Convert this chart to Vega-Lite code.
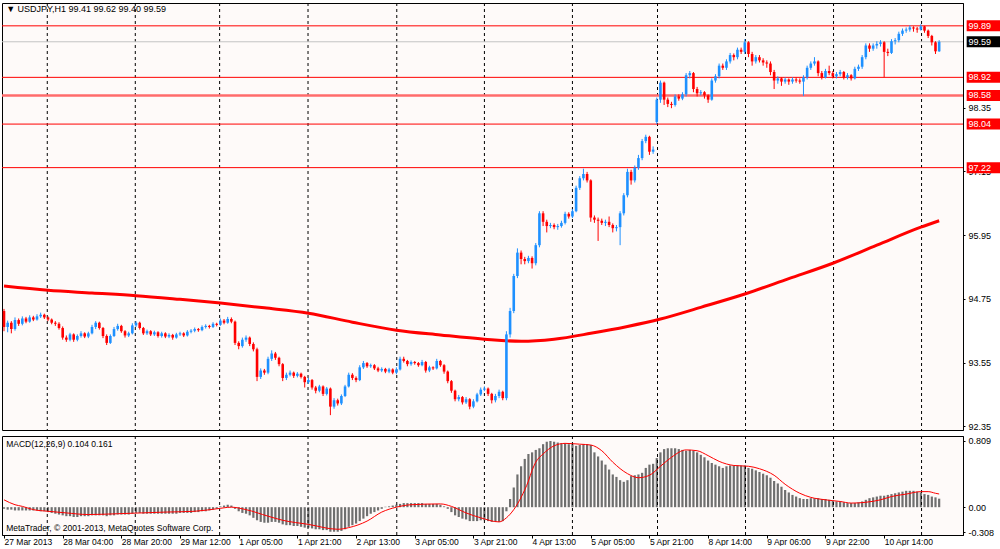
{
  "$schema": "https://vega.github.io/schema/vega-lite/v6.json",
  "background": "white",
  "padding": {"left": -3, "top": 2, "right": 0, "bottom": 0},
  "spacing": 3,
  "config": {
    "font": "Liberation Sans",
    "view": {"stroke": "black", "strokeWidth": 1, "fill": "#FEFAF9"},
    "scale": {"continuousPadding": 0},
    "axis": {"labelFont": "Liberation Sans", "labelFontSize": 9, "labelColor": "black", "domainColor": "black", "tickColor": "black", "grid": false, "labelFlush": false, "labelOverlap": false}
  },
  "datasets": {
    "sep": [{"i":11.8},{"i":35.8},{"i":58.8},{"i":82.9},{"i":107.1},{"i":131},{"i":155},{"i":178.2},{"i":202.2},{"i":226.2},{"i":250.2}],
    "ma": [
      {"i":0,"v":94.99},{"i":12,"v":94.91},{"i":24,"v":94.86},{"i":36,"v":94.81},{"i":48,"v":94.74},{"i":59,"v":94.67},
      {"i":71,"v":94.58},{"i":83,"v":94.48},{"i":95,"v":94.31},{"i":107,"v":94.16},{"i":119,"v":94.07},{"i":131,"v":93.99},
      {"i":141,"v":93.95},{"i":150,"v":93.99},{"i":160,"v":94.10},{"i":170,"v":94.23},{"i":179,"v":94.37},{"i":190,"v":94.59},
      {"i":202,"v":94.84},{"i":214,"v":95.13},{"i":226,"v":95.42},{"i":238,"v":95.76},{"i":250,"v":96.10},{"i":255,"v":96.22}
    ],
    "sig": [
      {"i":0,"s":0.09},{"i":3,"s":0.03},{"i":5,"s":0.01},{"i":8,"s":-0.03},{"i":12,"s":-0.05},{"i":17,"s":-0.07},{"i":23,"s":-0.09},
      {"i":31,"s":-0.08},{"i":44,"s":-0.06},{"i":52,"s":-0.05},{"i":58,"s":-0.02},{"i":62,"s":0.0},{"i":66,"s":-0.03},{"i":72,"s":-0.11},
      {"i":76,"s":-0.16},{"i":83,"s":-0.21},{"i":91,"s":-0.27},{"i":94,"s":-0.25},{"i":99,"s":-0.17},{"i":103,"s":-0.06},{"i":107,"s":0.0},
      {"i":111,"s":0.03},{"i":119,"s":0.04},{"i":122,"s":0.01},{"i":126,"s":-0.07},{"i":130,"s":-0.13},{"i":135,"s":-0.18},{"i":137,"s":-0.13},
      {"i":139,"s":-0.03},{"i":141,"s":0.12},{"i":143,"s":0.32},{"i":144,"s":0.45},{"i":145,"s":0.55},{"i":147,"s":0.65},{"i":150,"s":0.75},
      {"i":153,"s":0.78},{"i":157,"s":0.77},{"i":160,"s":0.76},{"i":163,"s":0.69},{"i":166,"s":0.55},{"i":170,"s":0.41},{"i":173,"s":0.36},
      {"i":176,"s":0.39},{"i":179,"s":0.50},{"i":182,"s":0.61},{"i":186,"s":0.70},{"i":189,"s":0.69},{"i":192,"s":0.63},{"i":195,"s":0.56},
      {"i":199,"s":0.51},{"i":203,"s":0.50},{"i":206,"s":0.47},{"i":210,"s":0.39},{"i":213,"s":0.28},{"i":217,"s":0.17},{"i":220,"s":0.12},
      {"i":224,"s":0.09},{"i":228,"s":0.07},{"i":231,"s":0.05},{"i":235,"s":0.06},{"i":239,"s":0.09},{"i":242,"s":0.13},{"i":246,"s":0.16},
      {"i":250,"s":0.19},{"i":252,"s":0.19},{"i":254,"s":0.17},{"i":255,"s":0.161}
    ],
    "bars": [
      {"i":0,"o":94.52,"h":94.56,"l":94.14,"c":94.22,"m":-0.02},
      {"i":1,"o":94.22,"h":94.34,"l":94.12,"c":94.30,"m":-0.03},
      {"i":2,"o":94.30,"h":94.33,"l":94.10,"c":94.18,"m":-0.03},
      {"i":3,"o":94.18,"h":94.40,"l":94.15,"c":94.35,"m":-0.04},
      {"i":4,"o":94.35,"h":94.38,"l":94.24,"c":94.28,"m":-0.04},
      {"i":5,"o":94.28,"h":94.42,"l":94.25,"c":94.38,"m":-0.04},
      {"i":6,"o":94.38,"h":94.41,"l":94.29,"c":94.32,"m":-0.04},
      {"i":7,"o":94.32,"h":94.44,"l":94.30,"c":94.40,"m":-0.04},
      {"i":8,"o":94.40,"h":94.43,"l":94.33,"c":94.36,"m":-0.04},
      {"i":9,"o":94.36,"h":94.46,"l":94.34,"c":94.42,"m":-0.04},
      {"i":10,"o":94.42,"h":94.49,"l":94.39,"c":94.45,"m":-0.05},
      {"i":11,"o":94.45,"h":94.47,"l":94.37,"c":94.40,"m":-0.05},
      {"i":12,"o":94.40,"h":94.42,"l":94.33,"c":94.36,"m":-0.06},
      {"i":13,"o":94.36,"h":94.38,"l":94.27,"c":94.30,"m":-0.07},
      {"i":14,"o":94.30,"h":94.33,"l":94.24,"c":94.28,"m":-0.08},
      {"i":15,"o":94.28,"h":94.31,"l":94.17,"c":94.20,"m":-0.09},
      {"i":16,"o":94.20,"h":94.23,"l":93.98,"c":94.02,"m":-0.10},
      {"i":17,"o":94.02,"h":94.06,"l":93.94,"c":93.98,"m":-0.11},
      {"i":18,"o":93.98,"h":94.11,"l":93.95,"c":94.08,"m":-0.11},
      {"i":19,"o":94.08,"h":94.10,"l":93.94,"c":93.98,"m":-0.12},
      {"i":20,"o":93.98,"h":94.08,"l":93.95,"c":94.05,"m":-0.12},
      {"i":21,"o":94.05,"h":94.14,"l":94.02,"c":94.10,"m":-0.11},
      {"i":22,"o":94.10,"h":94.12,"l":94.01,"c":94.04,"m":-0.11},
      {"i":23,"o":94.04,"h":94.13,"l":94.01,"c":94.10,"m":-0.11},
      {"i":24,"o":94.10,"h":94.26,"l":94.08,"c":94.22,"m":-0.10},
      {"i":25,"o":94.22,"h":94.33,"l":94.18,"c":94.30,"m":-0.10},
      {"i":26,"o":94.30,"h":94.32,"l":94.17,"c":94.20,"m":-0.10},
      {"i":27,"o":94.20,"h":94.22,"l":94.01,"c":94.05,"m":-0.10},
      {"i":28,"o":94.05,"h":94.08,"l":93.88,"c":93.92,"m":-0.11},
      {"i":29,"o":93.92,"h":94.08,"l":93.90,"c":94.05,"m":-0.10},
      {"i":30,"o":94.05,"h":94.22,"l":94.03,"c":94.18,"m":-0.10},
      {"i":31,"o":94.18,"h":94.28,"l":94.15,"c":94.24,"m":-0.09},
      {"i":32,"o":94.24,"h":94.26,"l":94.11,"c":94.14,"m":-0.09},
      {"i":33,"o":94.14,"h":94.16,"l":94.02,"c":94.06,"m":-0.09},
      {"i":34,"o":94.06,"h":94.13,"l":94.03,"c":94.10,"m":-0.09},
      {"i":35,"o":94.10,"h":94.29,"l":94.08,"c":94.25,"m":-0.08},
      {"i":36,"o":94.25,"h":94.33,"l":94.22,"c":94.30,"m":-0.07},
      {"i":37,"o":94.30,"h":94.32,"l":94.17,"c":94.20,"m":-0.07},
      {"i":38,"o":94.20,"h":94.22,"l":94.07,"c":94.10,"m":-0.08},
      {"i":39,"o":94.10,"h":94.17,"l":94.07,"c":94.14,"m":-0.08},
      {"i":40,"o":94.14,"h":94.16,"l":94.05,"c":94.08,"m":-0.08},
      {"i":41,"o":94.08,"h":94.15,"l":94.05,"c":94.12,"m":-0.08},
      {"i":42,"o":94.12,"h":94.14,"l":94.02,"c":94.05,"m":-0.08},
      {"i":43,"o":94.05,"h":94.13,"l":94.02,"c":94.10,"m":-0.08},
      {"i":44,"o":94.10,"h":94.12,"l":94.01,"c":94.04,"m":-0.08},
      {"i":45,"o":94.04,"h":94.10,"l":94.01,"c":94.07,"m":-0.08},
      {"i":46,"o":94.07,"h":94.09,"l":93.98,"c":94.02,"m":-0.08},
      {"i":47,"o":94.02,"h":94.11,"l":94.00,"c":94.08,"m":-0.08},
      {"i":48,"o":94.08,"h":94.13,"l":94.05,"c":94.10,"m":-0.07},
      {"i":49,"o":94.10,"h":94.12,"l":94.03,"c":94.06,"m":-0.07},
      {"i":50,"o":94.06,"h":94.16,"l":94.04,"c":94.13,"m":-0.07},
      {"i":51,"o":94.13,"h":94.18,"l":94.10,"c":94.15,"m":-0.07},
      {"i":52,"o":94.15,"h":94.21,"l":94.12,"c":94.18,"m":-0.06},
      {"i":53,"o":94.18,"h":94.20,"l":94.13,"c":94.16,"m":-0.06},
      {"i":54,"o":94.16,"h":94.25,"l":94.14,"c":94.22,"m":-0.05},
      {"i":55,"o":94.22,"h":94.27,"l":94.19,"c":94.24,"m":-0.05},
      {"i":56,"o":94.24,"h":94.26,"l":94.19,"c":94.22,"m":-0.04},
      {"i":57,"o":94.22,"h":94.31,"l":94.20,"c":94.28,"m":-0.03},
      {"i":58,"o":94.28,"h":94.30,"l":94.23,"c":94.26,"m":-0.02},
      {"i":59,"o":94.26,"h":94.38,"l":94.24,"c":94.34,"m":0.01},
      {"i":60,"o":94.34,"h":94.37,"l":94.27,"c":94.30,"m":0.02},
      {"i":61,"o":94.30,"h":94.41,"l":94.28,"c":94.37,"m":0.03},
      {"i":62,"o":94.37,"h":94.40,"l":94.29,"c":94.32,"m":0.02},
      {"i":63,"o":94.32,"h":94.34,"l":93.88,"c":93.92,"m":-0.02},
      {"i":64,"o":93.92,"h":93.95,"l":93.80,"c":93.86,"m":-0.05},
      {"i":65,"o":93.86,"h":94.02,"l":93.83,"c":93.98,"m":-0.07},
      {"i":66,"o":93.98,"h":94.06,"l":93.94,"c":94.02,"m":-0.08},
      {"i":67,"o":94.02,"h":94.04,"l":93.86,"c":93.90,"m":-0.10},
      {"i":68,"o":93.90,"h":93.93,"l":93.76,"c":93.80,"m":-0.13},
      {"i":69,"o":93.80,"h":93.83,"l":93.20,"c":93.28,"m":-0.16},
      {"i":70,"o":93.28,"h":93.44,"l":93.24,"c":93.40,"m":-0.18},
      {"i":71,"o":93.40,"h":93.43,"l":93.32,"c":93.36,"m":-0.19},
      {"i":72,"o":93.36,"h":93.66,"l":93.33,"c":93.62,"m":-0.19},
      {"i":73,"o":93.62,"h":93.78,"l":93.58,"c":93.72,"m":-0.18},
      {"i":74,"o":93.72,"h":93.75,"l":93.60,"c":93.64,"m":-0.18},
      {"i":75,"o":93.64,"h":93.66,"l":93.48,"c":93.52,"m":-0.19},
      {"i":76,"o":93.52,"h":93.54,"l":93.20,"c":93.26,"m":-0.21},
      {"i":77,"o":93.26,"h":93.36,"l":93.22,"c":93.32,"m":-0.22},
      {"i":78,"o":93.32,"h":93.40,"l":93.29,"c":93.36,"m":-0.22},
      {"i":79,"o":93.36,"h":93.38,"l":93.26,"c":93.30,"m":-0.23},
      {"i":80,"o":93.30,"h":93.37,"l":93.27,"c":93.34,"m":-0.23},
      {"i":81,"o":93.34,"h":93.36,"l":93.25,"c":93.28,"m":-0.24},
      {"i":82,"o":93.28,"h":93.30,"l":93.08,"c":93.18,"m":-0.25},
      {"i":83,"o":93.18,"h":93.26,"l":93.15,"c":93.22,"m":-0.25},
      {"i":84,"o":93.22,"h":93.24,"l":93.04,"c":93.08,"m":-0.26},
      {"i":85,"o":93.08,"h":93.11,"l":92.97,"c":93.02,"m":-0.27},
      {"i":86,"o":93.02,"h":93.13,"l":92.99,"c":93.10,"m":-0.27},
      {"i":87,"o":93.10,"h":93.12,"l":92.92,"c":92.96,"m":-0.28},
      {"i":88,"o":92.96,"h":93.09,"l":92.93,"c":93.06,"m":-0.28},
      {"i":89,"o":93.06,"h":93.08,"l":92.56,"c":92.72,"m":-0.30},
      {"i":90,"o":92.72,"h":92.88,"l":92.68,"c":92.84,"m":-0.30},
      {"i":91,"o":92.84,"h":92.87,"l":92.74,"c":92.78,"m":-0.30},
      {"i":92,"o":92.78,"h":92.95,"l":92.75,"c":92.92,"m":-0.29},
      {"i":93,"o":92.92,"h":93.13,"l":92.90,"c":93.10,"m":-0.27},
      {"i":94,"o":93.10,"h":93.36,"l":93.08,"c":93.32,"m":-0.24},
      {"i":95,"o":93.32,"h":93.35,"l":93.22,"c":93.26,"m":-0.22},
      {"i":96,"o":93.26,"h":93.29,"l":93.18,"c":93.22,"m":-0.20},
      {"i":97,"o":93.22,"h":93.50,"l":93.20,"c":93.46,"m":-0.17},
      {"i":98,"o":93.46,"h":93.58,"l":93.43,"c":93.54,"m":-0.14},
      {"i":99,"o":93.54,"h":93.56,"l":93.45,"c":93.48,"m":-0.11},
      {"i":100,"o":93.48,"h":93.53,"l":93.45,"c":93.50,"m":-0.08},
      {"i":101,"o":93.50,"h":93.52,"l":93.41,"c":93.44,"m":-0.06},
      {"i":102,"o":93.44,"h":93.47,"l":93.37,"c":93.40,"m":-0.04},
      {"i":103,"o":93.40,"h":93.46,"l":93.37,"c":93.43,"m":-0.02},
      {"i":104,"o":93.43,"h":93.45,"l":93.35,"c":93.38,"m":0.005},
      {"i":105,"o":93.38,"h":93.45,"l":93.35,"c":93.42,"m":0.01},
      {"i":106,"o":93.42,"h":93.44,"l":93.33,"c":93.36,"m":0.02},
      {"i":107,"o":93.36,"h":93.46,"l":93.33,"c":93.42,"m":0.03},
      {"i":108,"o":93.42,"h":93.66,"l":93.40,"c":93.62,"m":0.04},
      {"i":109,"o":93.62,"h":93.66,"l":93.55,"c":93.58,"m":0.05},
      {"i":110,"o":93.58,"h":93.60,"l":93.48,"c":93.52,"m":0.05},
      {"i":111,"o":93.52,"h":93.59,"l":93.49,"c":93.56,"m":0.05},
      {"i":112,"o":93.56,"h":93.58,"l":93.51,"c":93.54,"m":0.05},
      {"i":113,"o":93.54,"h":93.56,"l":93.47,"c":93.50,"m":0.05},
      {"i":114,"o":93.50,"h":93.60,"l":93.48,"c":93.56,"m":0.05},
      {"i":115,"o":93.56,"h":93.58,"l":93.36,"c":93.40,"m":0.04},
      {"i":116,"o":93.40,"h":93.49,"l":93.37,"c":93.46,"m":0.04},
      {"i":117,"o":93.46,"h":93.48,"l":93.41,"c":93.44,"m":0.04},
      {"i":118,"o":93.44,"h":93.62,"l":93.42,"c":93.58,"m":0.04},
      {"i":119,"o":93.58,"h":93.60,"l":93.47,"c":93.50,"m":0.03},
      {"i":120,"o":93.50,"h":93.52,"l":93.34,"c":93.38,"m":0.01},
      {"i":121,"o":93.38,"h":93.40,"l":93.16,"c":93.20,"m":-0.02},
      {"i":122,"o":93.20,"h":93.22,"l":92.98,"c":93.02,"m":-0.06},
      {"i":123,"o":93.02,"h":93.04,"l":92.82,"c":92.86,"m":-0.10},
      {"i":124,"o":92.86,"h":92.94,"l":92.82,"c":92.90,"m":-0.12},
      {"i":125,"o":92.90,"h":92.92,"l":92.76,"c":92.80,"m":-0.14},
      {"i":126,"o":92.80,"h":92.90,"l":92.77,"c":92.86,"m":-0.15},
      {"i":127,"o":92.86,"h":92.88,"l":92.67,"c":92.72,"m":-0.17},
      {"i":128,"o":92.72,"h":92.86,"l":92.69,"c":92.82,"m":-0.17},
      {"i":129,"o":92.82,"h":92.98,"l":92.80,"c":92.95,"m":-0.17},
      {"i":130,"o":92.95,"h":93.08,"l":92.92,"c":93.04,"m":-0.16},
      {"i":131,"o":93.04,"h":93.10,"l":93.01,"c":93.06,"m":-0.16},
      {"i":132,"o":93.06,"h":93.08,"l":92.92,"c":92.96,"m":-0.17},
      {"i":133,"o":92.96,"h":92.98,"l":92.78,"c":92.84,"m":-0.18},
      {"i":134,"o":92.84,"h":92.96,"l":92.80,"c":92.92,"m":-0.18},
      {"i":135,"o":92.92,"h":93.04,"l":92.88,"c":93.00,"m":-0.18},
      {"i":136,"o":93.00,"h":93.02,"l":92.84,"c":92.88,"m":-0.17},
      {"i":137,"o":92.88,"h":94.14,"l":92.84,"c":94.08,"m":-0.05},
      {"i":138,"o":94.08,"h":94.58,"l":94.02,"c":94.52,"m":0.10},
      {"i":139,"o":94.52,"h":95.22,"l":94.48,"c":95.18,"m":0.24},
      {"i":140,"o":95.18,"h":95.70,"l":95.14,"c":95.62,"m":0.40},
      {"i":141,"o":95.62,"h":95.66,"l":95.40,"c":95.50,"m":0.50},
      {"i":142,"o":95.50,"h":95.54,"l":95.40,"c":95.46,"m":0.59},
      {"i":143,"o":95.46,"h":95.56,"l":95.42,"c":95.52,"m":0.65},
      {"i":144,"o":95.52,"h":95.55,"l":95.32,"c":95.42,"m":0.67},
      {"i":145,"o":95.42,"h":95.80,"l":95.38,"c":95.76,"m":0.70},
      {"i":146,"o":95.76,"h":96.40,"l":95.72,"c":96.36,"m":0.72},
      {"i":147,"o":96.36,"h":96.40,"l":96.12,"c":96.20,"m":0.77},
      {"i":148,"o":96.20,"h":96.24,"l":96.00,"c":96.12,"m":0.80},
      {"i":149,"o":96.12,"h":96.18,"l":96.08,"c":96.14,"m":0.809},
      {"i":150,"o":96.14,"h":96.17,"l":96.06,"c":96.10,"m":0.80},
      {"i":151,"o":96.10,"h":96.16,"l":96.05,"c":96.12,"m":0.79},
      {"i":152,"o":96.12,"h":96.22,"l":96.09,"c":96.18,"m":0.78},
      {"i":153,"o":96.18,"h":96.39,"l":96.15,"c":96.35,"m":0.78},
      {"i":154,"o":96.35,"h":96.38,"l":96.26,"c":96.30,"m":0.77},
      {"i":155,"o":96.30,"h":96.44,"l":96.27,"c":96.40,"m":0.77},
      {"i":156,"o":96.40,"h":96.88,"l":96.38,"c":96.84,"m":0.75},
      {"i":157,"o":96.84,"h":97.06,"l":96.80,"c":97.02,"m":0.76},
      {"i":158,"o":97.02,"h":97.20,"l":96.98,"c":97.10,"m":0.77},
      {"i":159,"o":97.10,"h":97.14,"l":96.94,"c":96.98,"m":0.77},
      {"i":160,"o":96.98,"h":97.00,"l":96.20,"c":96.28,"m":0.76},
      {"i":161,"o":96.28,"h":96.32,"l":96.18,"c":96.24,"m":0.67},
      {"i":162,"o":96.24,"h":96.28,"l":95.84,"c":96.22,"m":0.62},
      {"i":163,"o":96.22,"h":96.26,"l":96.14,"c":96.18,"m":0.57},
      {"i":164,"o":96.18,"h":96.24,"l":96.12,"c":96.20,"m":0.52},
      {"i":165,"o":96.20,"h":96.30,"l":96.10,"c":96.14,"m":0.46},
      {"i":166,"o":96.14,"h":96.17,"l":96.00,"c":96.08,"m":0.40},
      {"i":167,"o":96.08,"h":96.14,"l":96.02,"c":96.10,"m":0.37},
      {"i":168,"o":96.10,"h":96.40,"l":95.76,"c":96.36,"m":0.33},
      {"i":169,"o":96.36,"h":96.74,"l":96.32,"c":96.70,"m":0.31},
      {"i":170,"o":96.70,"h":97.20,"l":96.66,"c":97.14,"m":0.33},
      {"i":171,"o":97.14,"h":97.18,"l":96.90,"c":96.98,"m":0.38},
      {"i":172,"o":96.98,"h":97.26,"l":96.94,"c":97.22,"m":0.39},
      {"i":173,"o":97.22,"h":97.46,"l":97.18,"c":97.40,"m":0.40},
      {"i":174,"o":97.40,"h":97.76,"l":97.36,"c":97.72,"m":0.42},
      {"i":175,"o":97.72,"h":97.84,"l":97.68,"c":97.80,"m":0.48},
      {"i":176,"o":97.80,"h":97.82,"l":97.46,"c":97.52,"m":0.52},
      {"i":177,"o":97.52,"h":97.62,"l":97.48,"c":97.56,"m":0.53},
      {"i":178,"o":98.08,"h":98.54,"l":98.04,"c":98.50,"m":0.60},
      {"i":179,"o":98.50,"h":98.86,"l":98.44,"c":98.82,"m":0.67},
      {"i":180,"o":98.82,"h":98.84,"l":98.40,"c":98.50,"m":0.71},
      {"i":181,"o":98.50,"h":98.54,"l":98.36,"c":98.42,"m":0.72},
      {"i":182,"o":98.42,"h":98.46,"l":98.34,"c":98.40,"m":0.72},
      {"i":183,"o":98.40,"h":98.60,"l":98.37,"c":98.56,"m":0.72},
      {"i":184,"o":98.56,"h":98.60,"l":98.48,"c":98.52,"m":0.71},
      {"i":185,"o":98.52,"h":98.64,"l":98.49,"c":98.60,"m":0.70},
      {"i":186,"o":98.60,"h":99.00,"l":98.56,"c":98.96,"m":0.69},
      {"i":187,"o":98.96,"h":99.04,"l":98.90,"c":99.00,"m":0.70},
      {"i":188,"o":99.00,"h":99.02,"l":98.64,"c":98.70,"m":0.69},
      {"i":189,"o":98.70,"h":98.74,"l":98.56,"c":98.62,"m":0.67},
      {"i":190,"o":98.62,"h":98.68,"l":98.58,"c":98.64,"m":0.64},
      {"i":191,"o":98.64,"h":98.66,"l":98.52,"c":98.58,"m":0.61},
      {"i":192,"o":98.58,"h":98.60,"l":98.44,"c":98.50,"m":0.57},
      {"i":193,"o":98.50,"h":98.90,"l":98.48,"c":98.86,"m":0.54},
      {"i":194,"o":98.86,"h":98.98,"l":98.82,"c":98.94,"m":0.52},
      {"i":195,"o":98.94,"h":99.18,"l":98.90,"c":99.14,"m":0.50},
      {"i":196,"o":99.14,"h":99.18,"l":99.06,"c":99.10,"m":0.48},
      {"i":197,"o":99.10,"h":99.26,"l":99.06,"c":99.22,"m":0.50},
      {"i":198,"o":99.22,"h":99.38,"l":99.18,"c":99.34,"m":0.51},
      {"i":199,"o":99.34,"h":99.37,"l":99.24,"c":99.30,"m":0.51},
      {"i":200,"o":99.30,"h":99.48,"l":99.26,"c":99.44,"m":0.51},
      {"i":201,"o":99.44,"h":99.48,"l":99.36,"c":99.40,"m":0.51},
      {"i":202,"o":99.40,"h":99.64,"l":99.36,"c":99.58,"m":0.51},
      {"i":203,"o":99.58,"h":99.60,"l":99.30,"c":99.36,"m":0.48},
      {"i":204,"o":99.36,"h":99.40,"l":99.14,"c":99.22,"m":0.47},
      {"i":205,"o":99.22,"h":99.34,"l":99.18,"c":99.30,"m":0.45},
      {"i":206,"o":99.30,"h":99.34,"l":99.20,"c":99.24,"m":0.43},
      {"i":207,"o":99.24,"h":99.28,"l":99.14,"c":99.20,"m":0.41},
      {"i":208,"o":99.20,"h":99.24,"l":99.10,"c":99.18,"m":0.39},
      {"i":209,"o":99.18,"h":99.22,"l":98.96,"c":99.02,"m":0.36},
      {"i":210,"o":99.02,"h":99.06,"l":98.70,"c":98.86,"m":0.32},
      {"i":211,"o":98.86,"h":98.94,"l":98.80,"c":98.90,"m":0.29},
      {"i":212,"o":98.90,"h":98.92,"l":98.76,"c":98.84,"m":0.25},
      {"i":213,"o":98.84,"h":98.92,"l":98.80,"c":98.88,"m":0.21},
      {"i":214,"o":98.88,"h":98.90,"l":98.78,"c":98.84,"m":0.18},
      {"i":215,"o":98.84,"h":98.92,"l":98.80,"c":98.88,"m":0.15},
      {"i":216,"o":98.88,"h":98.92,"l":98.82,"c":98.86,"m":0.13},
      {"i":217,"o":98.86,"h":98.90,"l":98.80,"c":98.84,"m":0.11},
      {"i":218,"o":98.84,"h":98.96,"l":98.57,"c":98.92,"m":0.10},
      {"i":219,"o":98.92,"h":99.14,"l":98.88,"c":99.10,"m":0.10},
      {"i":220,"o":99.10,"h":99.22,"l":99.06,"c":99.18,"m":0.11},
      {"i":221,"o":99.18,"h":99.30,"l":99.14,"c":99.22,"m":0.11},
      {"i":222,"o":99.22,"h":99.24,"l":98.94,"c":99.00,"m":0.11},
      {"i":223,"o":99.00,"h":99.04,"l":98.88,"c":98.92,"m":0.10},
      {"i":224,"o":98.92,"h":99.08,"l":98.90,"c":99.04,"m":0.10},
      {"i":225,"o":99.04,"h":99.14,"l":98.96,"c":99.00,"m":0.09},
      {"i":226,"o":99.00,"h":99.04,"l":98.90,"c":98.94,"m":0.08},
      {"i":227,"o":98.94,"h":99.02,"l":98.90,"c":98.98,"m":0.07},
      {"i":228,"o":98.98,"h":99.06,"l":98.94,"c":99.02,"m":0.07},
      {"i":229,"o":99.02,"h":99.04,"l":98.88,"c":98.92,"m":0.06},
      {"i":230,"o":98.92,"h":99.00,"l":98.88,"c":98.96,"m":0.05},
      {"i":231,"o":98.96,"h":98.98,"l":98.86,"c":98.90,"m":0.05},
      {"i":232,"o":98.90,"h":99.12,"l":98.88,"c":99.08,"m":0.05},
      {"i":233,"o":99.08,"h":99.16,"l":99.04,"c":99.12,"m":0.06},
      {"i":234,"o":99.12,"h":99.34,"l":99.08,"c":99.30,"m":0.07},
      {"i":235,"o":99.30,"h":99.56,"l":99.26,"c":99.52,"m":0.09},
      {"i":236,"o":99.52,"h":99.56,"l":99.40,"c":99.46,"m":0.11},
      {"i":237,"o":99.46,"h":99.56,"l":99.42,"c":99.52,"m":0.12},
      {"i":238,"o":99.52,"h":99.60,"l":99.46,"c":99.55,"m":0.13},
      {"i":239,"o":99.55,"h":99.62,"l":99.50,"c":99.58,"m":0.14},
      {"i":240,"o":99.58,"h":99.60,"l":98.92,"c":99.40,"m":0.14},
      {"i":241,"o":99.40,"h":99.46,"l":99.32,"c":99.38,"m":0.15},
      {"i":242,"o":99.38,"h":99.64,"l":99.36,"c":99.60,"m":0.16},
      {"i":243,"o":99.60,"h":99.66,"l":99.54,"c":99.62,"m":0.17},
      {"i":244,"o":99.62,"h":99.78,"l":99.58,"c":99.74,"m":0.18},
      {"i":245,"o":99.74,"h":99.84,"l":99.70,"c":99.80,"m":0.19},
      {"i":246,"o":99.80,"h":99.86,"l":99.76,"c":99.82,"m":0.20},
      {"i":247,"o":99.82,"h":99.90,"l":99.78,"c":99.86,"m":0.20},
      {"i":248,"o":99.86,"h":99.88,"l":99.78,"c":99.84,"m":0.20},
      {"i":249,"o":99.84,"h":99.87,"l":99.76,"c":99.82,"m":0.19},
      {"i":250,"o":99.82,"h":99.92,"l":99.80,"c":99.88,"m":0.18},
      {"i":251,"o":99.88,"h":99.89,"l":99.76,"c":99.80,"m":0.16},
      {"i":252,"o":99.80,"h":99.82,"l":99.66,"c":99.70,"m":0.15},
      {"i":253,"o":99.70,"h":99.72,"l":99.52,"c":99.58,"m":0.13},
      {"i":254,"o":99.58,"h":99.60,"l":99.36,"c":99.41,"m":0.12},
      {"i":255,"o":99.41,"h":99.62,"l":99.40,"c":99.59,"m":0.104}
    ]
  },
  "vconcat": [
    {
      "width": 961,
      "height": 427,
      "layer": [
        {
          "data": {"name": "sep"},
          "mark": {"type": "rule", "color": "black", "strokeWidth": 1, "strokeDash": [3, 3]},
          "encoding": {
            "x": {"field": "i", "type": "quantitative", "scale": {"domain": [-0.545, 261.5], "nice": false, "zero": false, "padding": 0}, "axis": null, "title": null}
          }
        },
        {
          "data": {"values": [{"p": 99.89}, {"p": 98.92}, {"p": 98.04}, {"p": 97.22}]},
          "mark": {"type": "rule", "color": "#FF0000", "strokeWidth": 1},
          "encoding": {
            "y": {
              "field": "p", "type": "quantitative", "title": null,
              "scale": {"domain": [92.28, 100.32], "nice": false, "zero": false, "padding": 0},
              "axis": {"orient": "right", "values": [92.35, 92.95, 93.55, 94.15, 94.75, 95.35, 95.95, 96.55, 97.15, 97.75, 98.35, 100.15], "format": ".2f", "tickSize": 2, "labelPadding": 3, "labelOverlap": false, "labelFlush": false}
            }
          }
        },
        {
          "data": {"values": [{"p": 98.58}]},
          "mark": {"type": "rule", "color": "#FF6B6B", "strokeWidth": 2.5},
          "encoding": {"y": {"field": "p", "type": "quantitative", "title": null, "scale": {"domain": [92.28, 100.32], "nice": false, "zero": false, "padding": 0}}}
        },
        {
          "data": {"values": [{"p": 99.59}]},
          "mark": {"type": "rule", "color": "#C4C4C4", "strokeWidth": 1},
          "encoding": {"y": {"field": "p", "type": "quantitative", "title": null, "scale": {"domain": [92.28, 100.32], "nice": false, "zero": false, "padding": 0}}}
        },
        {
          "data": {"name": "ma"},
          "mark": {"type": "line", "color": "#FF0000", "strokeWidth": 3, "interpolate": "monotone"},
          "encoding": {
            "x": {"field": "i", "type": "quantitative", "title": null, "scale": {"domain": [-0.545, 261.5], "nice": false, "zero": false, "padding": 0}},
            "y": {"field": "v", "type": "quantitative", "title": null, "scale": {"domain": [92.28, 100.32], "nice": false, "zero": false, "padding": 0}}
          }
        },
        {
          "data": {"name": "bars"},
          "mark": {"type": "rule", "strokeWidth": 1},
          "encoding": {
            "x": {"field": "i", "type": "quantitative", "title": null, "scale": {"domain": [-0.545, 261.5], "nice": false, "zero": false, "padding": 0}},
            "y": {"field": "l", "type": "quantitative", "title": null, "scale": {"domain": [92.28, 100.32], "nice": false, "zero": false, "padding": 0}},
            "y2": {"field": "h"},
            "color": {"condition": {"test": "datum.c >= datum.o", "value": "#1E90FF"}, "value": "#FF0000"}
          }
        },
        {
          "data": {"name": "bars"},
          "mark": {"type": "bar", "size": 2.6},
          "encoding": {
            "x": {"field": "i", "type": "quantitative", "title": null, "scale": {"domain": [-0.545, 261.5], "nice": false, "zero": false, "padding": 0}},
            "y": {"field": "o", "type": "quantitative", "title": null, "scale": {"domain": [92.28, 100.32], "nice": false, "zero": false, "padding": 0}},
            "y2": {"field": "c"},
            "color": {"condition": {"test": "datum.c >= datum.o", "value": "#1E90FF"}, "value": "#FF0000"}
          }
        },
        {
          "data": {"values": [{"p": 99.89}, {"p": 98.92}, {"p": 98.58}, {"p": 98.04}, {"p": 97.22}]},
          "mark": {"type": "rect", "color": "#FF0000", "height": 11, "clip": false},
          "encoding": {
            "x": {"datum": 262.5, "type": "quantitative", "title": null, "scale": {"domain": [-0.545, 261.5], "nice": false, "zero": false, "padding": 0}},
            "x2": {"datum": 271.6},
            "y": {"field": "p", "type": "quantitative", "title": null, "scale": {"domain": [92.28, 100.32], "nice": false, "zero": false, "padding": 0}}
          }
        },
        {
          "data": {"values": [{"p": 99.59}]},
          "mark": {"type": "rect", "color": "#000000", "height": 11, "clip": false},
          "encoding": {
            "x": {"datum": 262.5, "type": "quantitative", "title": null, "scale": {"domain": [-0.545, 261.5], "nice": false, "zero": false, "padding": 0}},
            "x2": {"datum": 271.6},
            "y": {"field": "p", "type": "quantitative", "title": null, "scale": {"domain": [92.28, 100.32], "nice": false, "zero": false, "padding": 0}}
          }
        },
        {
          "data": {"values": [{"p": 99.89}, {"p": 99.59}, {"p": 98.92}, {"p": 98.58}, {"p": 98.04}, {"p": 97.22}]},
          "mark": {"type": "text", "color": "white", "fontSize": 9, "align": "left", "baseline": "middle", "clip": false},
          "encoding": {
            "x": {"datum": 263.0, "type": "quantitative", "title": null, "scale": {"domain": [-0.545, 261.5], "nice": false, "zero": false, "padding": 0}},
            "y": {"field": "p", "type": "quantitative", "title": null, "scale": {"domain": [92.28, 100.32], "nice": false, "zero": false, "padding": 0}},
            "text": {"field": "p", "type": "quantitative", "format": ".2f"}
          }
        },
        {
          "data": {"values": [{"t": "▼ USDJPY,H1  99.41 99.62 99.40 99.59"}]},
          "mark": {"type": "text", "color": "black", "fontSize": 9, "align": "left", "baseline": "middle"},
          "encoding": {
            "x": {"datum": 0.6, "type": "quantitative", "title": null, "scale": {"domain": [-0.545, 261.5], "nice": false, "zero": false, "padding": 0}},
            "y": {"datum": 100.2, "type": "quantitative", "title": null, "scale": {"domain": [92.28, 100.32], "nice": false, "zero": false, "padding": 0}},
            "text": {"field": "t"}
          }
        }
      ]
    },
    {
      "width": 961,
      "height": 99,
      "layer": [
        {
          "data": {"name": "bars"},
          "mark": {"type": "bar", "size": 2.2, "color": "#6F6F6F"},
          "encoding": {
            "x": {
              "field": "i", "type": "quantitative", "title": null,
              "scale": {"domain": [-0.545, 261.5], "nice": false, "zero": false, "padding": 0},
              "axis": {
                "values": [0, 16, 32, 48, 64, 80, 96, 112, 128, 144, 160, 176, 192, 208, 224, 240],
                "labelExpr": "['27 Mar 2013','28 Mar 04:00','28 Mar 20:00','29 Mar 12:00','1 Apr 05:00','1 Apr 21:00','2 Apr 13:00','3 Apr 05:00','3 Apr 21:00','4 Apr 13:00','5 Apr 05:00','5 Apr 21:00','8 Apr 14:00','9 Apr 06:00','9 Apr 22:00','10 Apr 14:00'][round(datum.value / 16)]",
                "labelAlign": "left", "labelFontSize": 8.5, "tickSize": 3, "labelPadding": -1, "labelBound": false, "labelOverlap": false, "labelFlush": false
              }
            },
            "y": {
              "field": "m", "type": "quantitative", "title": null,
              "scale": {"domain": [-0.34, 0.87], "nice": false, "zero": false, "padding": 0},
              "axis": {"orient": "right", "values": [0.809, 0, -0.308], "labelExpr": "datum.value == 0 ? '0.00' : (datum.value > 0 ? '0.809' : '-0.308')", "tickSize": 2, "labelPadding": 3, "labelOverlap": false, "labelFlush": false}
            },
            "y2": {"datum": 0}
          }
        },
        {
          "data": {"name": "sep"},
          "mark": {"type": "rule", "color": "black", "strokeWidth": 1, "strokeDash": [3, 3]},
          "encoding": {
            "x": {"field": "i", "type": "quantitative", "title": null, "scale": {"domain": [-0.545, 261.5], "nice": false, "zero": false, "padding": 0}}
          }
        },
        {
          "data": {"name": "sig"},
          "mark": {"type": "line", "color": "#FF0000", "strokeWidth": 1, "interpolate": "monotone"},
          "encoding": {
            "x": {"field": "i", "type": "quantitative", "title": null, "scale": {"domain": [-0.545, 261.5], "nice": false, "zero": false, "padding": 0}},
            "y": {"field": "s", "type": "quantitative", "title": null, "scale": {"domain": [-0.34, 0.87], "nice": false, "zero": false, "padding": 0}}
          }
        },
        {
          "data": {"values": [{"t": "MACD(12,26,9) 0.104 0.161", "v": 0.77}, {"t": "MetaTrader, © 2001-2013, MetaQuotes Software Corp.", "v": -0.26}]},
          "mark": {"type": "text", "color": "black", "fontSize": 8.5, "align": "left", "baseline": "middle"},
          "encoding": {
            "x": {"datum": 0.6, "type": "quantitative", "title": null, "scale": {"domain": [-0.545, 261.5], "nice": false, "zero": false, "padding": 0}},
            "y": {"field": "v", "type": "quantitative", "title": null, "scale": {"domain": [-0.34, 0.87], "nice": false, "zero": false, "padding": 0}},
            "text": {"field": "t"}
          }
        }
      ]
    }
  ]
}
